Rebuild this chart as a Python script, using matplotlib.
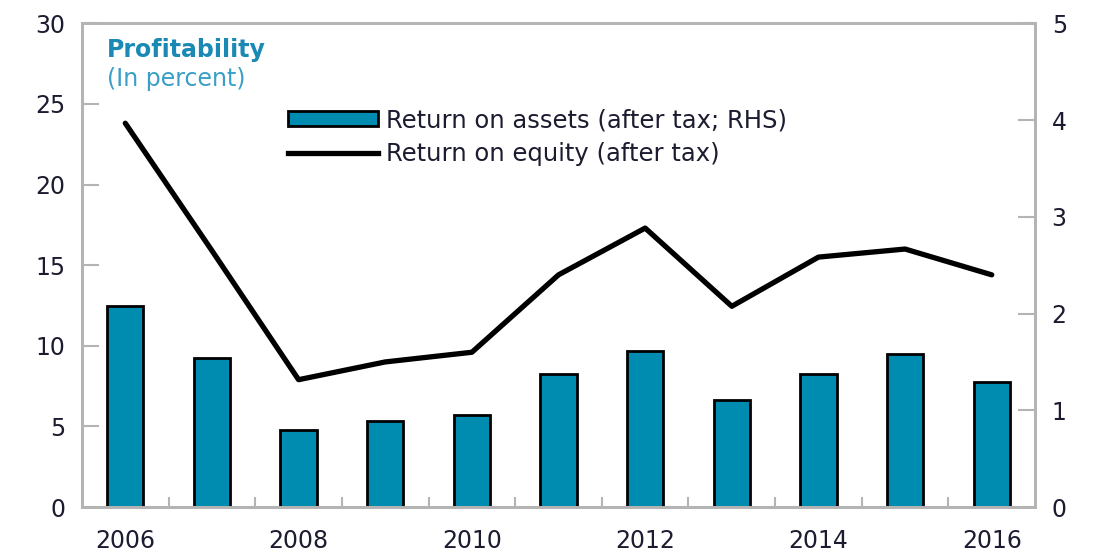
import numpy as np
import matplotlib
matplotlib.use("Agg")
from matplotlib import pyplot as plt
from matplotlib.lines import Line2D
from matplotlib.patches import Patch

years = [2006, 2007, 2008, 2009, 2010, 2011, 2012, 2013, 2014, 2015, 2016]
roe = [23.8, 15.9, 7.9, 9.0, 9.6, 14.4, 17.3, 12.45, 15.5, 16.0, 14.4]
roa = [2.08, 1.54, 0.80, 0.89, 0.95, 1.38, 1.61, 1.11, 1.38, 1.58, 1.29]
year_labels = ["2006", "", "2008", "", "2010", "", "2012", "", "2014", "", "2016"]

plt.rcParams["font.family"] = ["DejaVu Sans"]
text_col = "#1c1c30"
grey = "#b4b4b4"
blue = "#008bb0"

fig = plt.figure(figsize=(10.93, 5.53), dpi=100)
ax = fig.add_axes([0.075, 0.083, 0.872, 0.875])
ax2 = ax.twinx()

x = np.arange(len(years))
ax2.bar(x, roa, width=0.42, color=blue, edgecolor="black", linewidth=2)
ax.plot(x, roe, color="black", linewidth=3.8, solid_capstyle="round")

# line above the bars
ax.set_zorder(ax2.get_zorder() + 1)
ax.patch.set_visible(False)

ax.set_xlim(-0.5, len(years) - 0.5)
ax.set_ylim(0, 30)
ax2.set_ylim(0, 5)
ax.set_yticks(range(0, 31, 5))
ax2.set_yticks(range(0, 6))

ax.set_xticks(x)
ax.set_xticklabels(year_labels)
ax.set_xticks(np.arange(0.5, len(years) - 1, 1), minor=True)
ax.tick_params(axis="x", which="major", length=0, pad=16, labelsize=17, colors=text_col)
ax.tick_params(axis="x", which="minor", direction="in", length=7, width=1.5, color=grey)
ax.tick_params(axis="y", direction="in", length=12, width=1.5, color=grey,
               labelsize=17, labelcolor=text_col, pad=12)
ax2.tick_params(axis="y", direction="in", length=12, width=1.5, color=grey,
                labelsize=17, labelcolor=text_col, pad=12)

for a in (ax, ax2):
    for s in a.spines.values():
        s.set_color(grey)
        s.set_linewidth(2)

fig.text(0.098, 0.909, "Profitability", fontsize=17, fontweight="bold",
         color="#1a8ab5", va="center")
fig.text(0.098, 0.857, "(In percent)", fontsize=17, color="#3a9fc7", va="center")

handles = [Patch(facecolor=blue, edgecolor="black", linewidth=2),
           Line2D([0], [0], color="black", linewidth=3.8)]
labels = ["Return on assets (after tax; RHS)", "Return on equity (after tax)"]
fig.legend(handles, labels, loc="upper left", bbox_to_anchor=(0.255, 0.822),
           frameon=False, fontsize=17.5, handlelength=3.7, handleheight=0.55,
           handletextpad=0.3, labelspacing=0.42, borderaxespad=0,
           labelcolor=text_col)

fig.savefig("out.png", dpi=100)
